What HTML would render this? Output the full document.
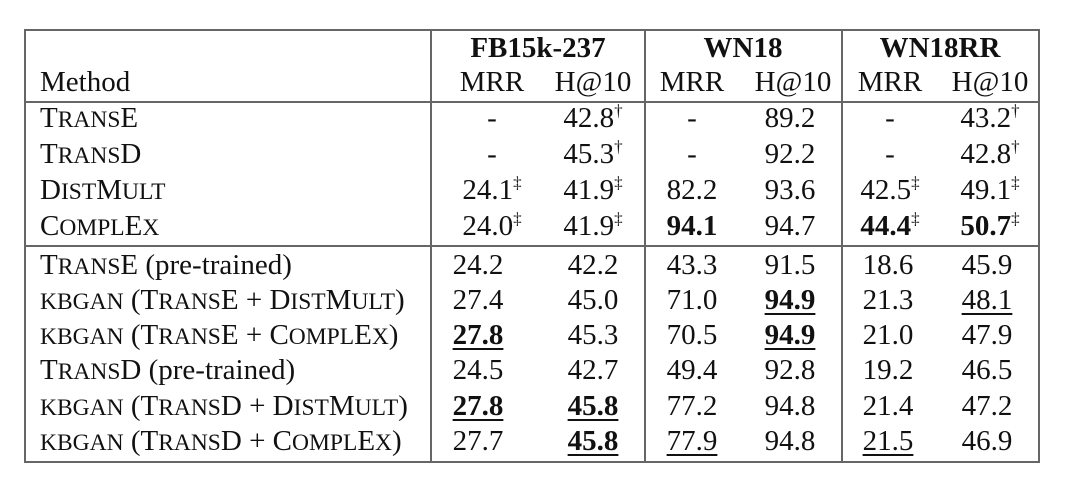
<!DOCTYPE html>
<html><head><meta charset="utf-8"><style>
body{margin:0;width:1080px;height:492px;background:#fff;position:relative;overflow:hidden;font-family:"Liberation Serif",serif;font-size:29px;color:#111}
.l{position:absolute;background:#666}
.c{position:absolute;width:200px;margin-left:-100px;text-align:center;line-height:34px;height:34px;white-space:nowrap}
.m{position:absolute;left:40px;line-height:34px;height:34px;white-space:nowrap}
.s{font-size:23.5px}
sup{font-size:17px;line-height:0;vertical-align:0;position:relative;top:-11px}
b{font-weight:bold}
u{text-decoration:underline;text-decoration-thickness:2px;text-underline-offset:4px}
</style></head><body>
<div class="l" style="left:24px;top:29px;width:1016px;height:2px"></div>
<div class="l" style="left:24px;top:101px;width:1016px;height:2px"></div>
<div class="l" style="left:24px;top:245px;width:1016px;height:2px"></div>
<div class="l" style="left:24px;top:461px;width:1016px;height:2px"></div>
<div class="l" style="left:24px;top:29px;width:2px;height:434px"></div>
<div class="l" style="left:430px;top:29px;width:2px;height:434px"></div>
<div class="l" style="left:644px;top:29px;width:2px;height:434px"></div>
<div class="l" style="left:841px;top:29px;width:2px;height:434px"></div>
<div class="l" style="left:1038px;top:29px;width:2px;height:434px"></div>

<div class="c" style="left:538px;top:31px"><b>FB15k-237</b></div>
<div class="c" style="left:743px;top:31px"><b>WN18</b></div>
<div class="c" style="left:940px;top:31px"><b>WN18RR</b></div>
<div class="m" style="top:65px">Method</div>
<div class="c" style="left:492px;top:65px">MRR</div>
<div class="c" style="left:593px;top:65px">H@10</div>
<div class="c" style="left:692px;top:65px">MRR</div>
<div class="c" style="left:793px;top:65px">H@10</div>
<div class="c" style="left:890px;top:65px">MRR</div>
<div class="c" style="left:990px;top:65px">H@10</div>

<div class="m" style="top:101px">T<span class="s">RANS</span>E</div>
<div class="c" style="left:492px;top:101px">-</div>
<div class="c" style="left:593px;top:101px">42.8<sup>†</sup></div>
<div class="c" style="left:692px;top:101px">-</div>
<div class="c" style="left:790px;top:101px">89.2</div>
<div class="c" style="left:890px;top:101px">-</div>
<div class="c" style="left:990px;top:101px">43.2<sup>†</sup></div>

<div class="m" style="top:137px">T<span class="s">RANS</span>D</div>
<div class="c" style="left:492px;top:137px">-</div>
<div class="c" style="left:593px;top:137px">45.3<sup>†</sup></div>
<div class="c" style="left:692px;top:137px">-</div>
<div class="c" style="left:790px;top:137px">92.2</div>
<div class="c" style="left:890px;top:137px">-</div>
<div class="c" style="left:990px;top:137px">42.8<sup>†</sup></div>

<div class="m" style="top:173px">D<span class="s">IST</span>M<span class="s">ULT</span></div>
<div class="c" style="left:492px;top:173px">24.1<sup>‡</sup></div>
<div class="c" style="left:593px;top:173px">41.9<sup>‡</sup></div>
<div class="c" style="left:692px;top:173px">82.2</div>
<div class="c" style="left:790px;top:173px">93.6</div>
<div class="c" style="left:890px;top:173px">42.5<sup>‡</sup></div>
<div class="c" style="left:990px;top:173px">49.1<sup>‡</sup></div>

<div class="m" style="top:209px">C<span class="s">OMPL</span>E<span class="s">X</span></div>
<div class="c" style="left:492px;top:209px">24.0<sup>‡</sup></div>
<div class="c" style="left:593px;top:209px">41.9<sup>‡</sup></div>
<div class="c" style="left:692px;top:209px"><b>94.1</b></div>
<div class="c" style="left:790px;top:209px">94.7</div>
<div class="c" style="left:890px;top:209px"><b>44.4</b><sup>‡</sup></div>
<div class="c" style="left:990px;top:209px"><b>50.7</b><sup>‡</sup></div>

<div class="m" style="top:248px">T<span class="s">RANS</span>E (pre-trained)</div>
<div class="c" style="left:478px;top:248px">24.2</div>
<div class="c" style="left:593px;top:248px">42.2</div>
<div class="c" style="left:692px;top:248px">43.3</div>
<div class="c" style="left:790px;top:248px">91.5</div>
<div class="c" style="left:888px;top:248px">18.6</div>
<div class="c" style="left:987px;top:248px">45.9</div>

<div class="m" style="top:283px"><span class="s">KBGAN</span> (T<span class="s">RANS</span>E + D<span class="s">IST</span>M<span class="s">ULT</span>)</div>
<div class="c" style="left:478px;top:283px">27.4</div>
<div class="c" style="left:593px;top:283px">45.0</div>
<div class="c" style="left:692px;top:283px">71.0</div>
<div class="c" style="left:790px;top:283px"><u><b>94.9</b></u></div>
<div class="c" style="left:888px;top:283px">21.3</div>
<div class="c" style="left:987px;top:283px"><u>48.1</u></div>

<div class="m" style="top:318px"><span class="s">KBGAN</span> (T<span class="s">RANS</span>E + C<span class="s">OMPL</span>E<span class="s">X</span>)</div>
<div class="c" style="left:478px;top:318px"><u><b>27.8</b></u></div>
<div class="c" style="left:593px;top:318px">45.3</div>
<div class="c" style="left:692px;top:318px">70.5</div>
<div class="c" style="left:790px;top:318px"><u><b>94.9</b></u></div>
<div class="c" style="left:888px;top:318px">21.0</div>
<div class="c" style="left:987px;top:318px">47.9</div>

<div class="m" style="top:353px">T<span class="s">RANS</span>D (pre-trained)</div>
<div class="c" style="left:478px;top:353px">24.5</div>
<div class="c" style="left:593px;top:353px">42.7</div>
<div class="c" style="left:692px;top:353px">49.4</div>
<div class="c" style="left:790px;top:353px">92.8</div>
<div class="c" style="left:888px;top:353px">19.2</div>
<div class="c" style="left:987px;top:353px">46.5</div>

<div class="m" style="top:389px"><span class="s">KBGAN</span> (T<span class="s">RANS</span>D + D<span class="s">IST</span>M<span class="s">ULT</span>)</div>
<div class="c" style="left:478px;top:389px"><u><b>27.8</b></u></div>
<div class="c" style="left:593px;top:389px"><u><b>45.8</b></u></div>
<div class="c" style="left:692px;top:389px">77.2</div>
<div class="c" style="left:790px;top:389px">94.8</div>
<div class="c" style="left:888px;top:389px">21.4</div>
<div class="c" style="left:987px;top:389px">47.2</div>

<div class="m" style="top:424px"><span class="s">KBGAN</span> (T<span class="s">RANS</span>D + C<span class="s">OMPL</span>E<span class="s">X</span>)</div>
<div class="c" style="left:478px;top:424px">27.7</div>
<div class="c" style="left:593px;top:424px"><u><b>45.8</b></u></div>
<div class="c" style="left:692px;top:424px"><u>77.9</u></div>
<div class="c" style="left:790px;top:424px">94.8</div>
<div class="c" style="left:888px;top:424px"><u>21.5</u></div>
<div class="c" style="left:987px;top:424px">46.9</div>
</body></html>
